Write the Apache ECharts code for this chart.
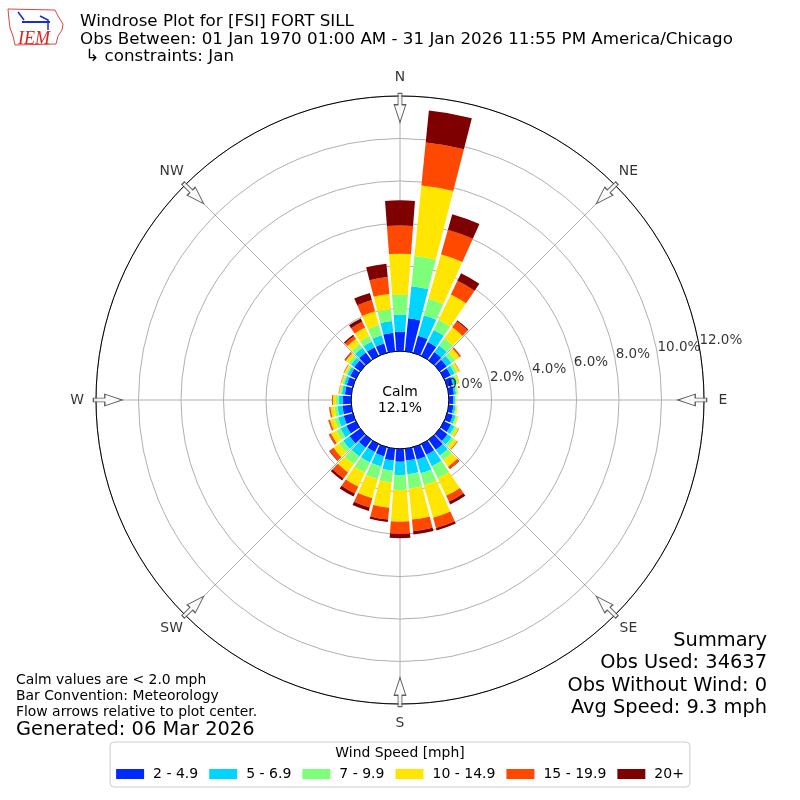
<!DOCTYPE html>
<html><head><meta charset="utf-8">
<script src="https://cdn.jsdelivr.net/npm/echarts@6/dist/echarts.min.js"></script>
<style>html,body{margin:0;padding:0;background:#fff}#c{width:800px;height:800px}</style>
</head><body><div id="c"></div>
<script>
const directions = ['0','10','20','30','40','50','60','70','80','90','100','110','120','130','140','150','160','170',
  '180','190','200','210','220','230','240','250','260','270','280','290','300','310','320','330','340','350'];
const speedBins = ['2 - 4.9','5 - 6.9','7 - 9.9','10 - 14.9','15 - 19.9','20+'];
const binColors = ['#0029ff','#00d5ff','#7dff7a','#ffe600','#ff4800','#7f0000'];

const spd2to5 = [0.90,1.56,0.84,0.72,0.47,0.40,0.35,0.30,0.25,0.20,0.22,0.28,0.36,0.45,0.58,0.55,0.61,0.56,
  0.60,0.56,0.45,0.41,0.46,0.62,0.50,0.45,0.42,0.38,0.30,0.30,0.30,0.35,0.45,0.45,0.45,0.88];
const spd5to7 = [0.80,1.51,1.00,0.63,0.38,0.28,0.20,0.14,0.10,0.08,0.10,0.13,0.18,0.24,0.33,0.60,0.67,0.64,
  0.62,0.48,0.50,0.55,0.51,0.37,0.30,0.27,0.23,0.20,0.14,0.13,0.14,0.19,0.27,0.30,0.41,0.55];
const spd7to10 = [0.95,1.44,0.80,0.53,0.42,0.22,0.13,0.09,0.05,0.04,0.05,0.07,0.11,0.15,0.28,0.64,0.58,0.68,
  0.71,0.56,0.62,0.54,0.45,0.24,0.22,0.18,0.15,0.13,0.08,0.08,0.09,0.14,0.22,0.28,0.50,0.56];
const spd10to15 = [1.93,3.33,2.18,1.33,0.64,0.25,0.12,0.07,0.05,0.03,0.05,0.07,0.11,0.17,0.37,0.91,1.59,1.47,
  1.49,1.19,0.93,0.72,0.47,0.32,0.28,0.22,0.18,0.14,0.06,0.07,0.09,0.16,0.30,0.45,0.67,0.72];
const spd15to20 = [1.32,2.03,1.20,0.71,0.35,0.07,0.02,0.01,0.00,0.00,0.00,0.00,0.02,0.04,0.12,0.30,0.50,0.55,
  0.58,0.56,0.45,0.36,0.35,0.22,0.10,0.07,0.06,0.04,0.02,0.02,0.03,0.06,0.16,0.30,0.55,0.80];
const spd20plus = [1.19,1.51,0.76,0.40,0.05,0.01,0.00,0.00,0.00,0.00,0.00,0.00,0.00,0.00,0.02,0.15,0.12,0.16,
  0.20,0.11,0.17,0.15,0.12,0.03,0.02,0.01,0.01,0.01,0.00,0.00,0.00,0.02,0.07,0.17,0.35,0.63];
const speedData = [spd2to5, spd5to7, spd7to10, spd10to15, spd15to20, spd20plus];

const radialTicks = [0,2,4,6,8,10,12];
const compassAngles = [0,45,90,135,180,225,270,315];
const compassNames = ['N','NE','E','SE','S','SW','W','NW'];
const calmPct = '12.1%';

const FONT = 'DejaVu Sans';
const chart = echarts.init(document.getElementById('c'), null, {renderer:'canvas'});

const barSeries = speedData.map((d,i)=>({
  type:'bar', name:speedBins[i], coordinateSystem:'polar', polarIndex:0, stack:'wind',
  data:d, barCategoryGap:'14%', itemStyle:{color:binColors[i]}, z:3, silent:true
}));

const rad = Math.PI/180;
const option = {
  backgroundColor:'#fff',
  animation:false,
  textStyle:{fontFamily:FONT},
  polar:[
    {center:['50%','50%'], radius:[49,304]},
    {center:['50%','50%'], radius:[49,304]}
  ],
  angleAxis:[
    {polarIndex:0, type:'category', data:directions, startAngle:95, clockwise:true, boundaryGap:true,
     axisLine:{show:false}, axisTick:{show:false}, axisLabel:{show:false}, splitLine:{show:false}},
    {polarIndex:1, type:'value', min:0, max:360, interval:45, startAngle:90, clockwise:true,
     axisLine:{show:true, lineStyle:{color:'#000', width:1}}, axisTick:{show:false}, axisLabel:{show:false},
     splitLine:{show:true, lineStyle:{color:'#b0b0b0', width:1}}}
  ],
  radiusAxis:[
    {polarIndex:0, type:'value', min:0, max:12, interval:2, show:false},
    {polarIndex:1, type:'value', min:0, max:12, interval:2,
     axisLine:{show:false}, axisTick:{show:false}, axisLabel:{show:false},
     splitLine:{show:true, lineStyle:{color:['#000','#b0b0b0','#b0b0b0','#b0b0b0','#b0b0b0','#b0b0b0','#b0b0b0'], width:1}}}
  ],
  legend:{
    data:speedBins, top:742, left:'center', orient:'horizontal', icon:'rect',
    itemWidth:28, itemHeight:10, itemGap:11,
    textStyle:{fontSize:14, color:'#000', fontFamily:FONT, padding:[0,0,0,4]},
    borderColor:'#cccccc', borderWidth:1, borderRadius:4, padding:[25,6,6,6], selectedMode:false
  },
  series:[
    ...barSeries,
    {type:'scatter', coordinateSystem:'polar', polarIndex:1, silent:true, z:5,
     data:compassAngles.map(a=>[11.44,a]),
     symbol:'path://M6,0L12,0L12,11L18,11L9,28L0,11L6,11Z', symbolSize:[18,29], symbolKeepAspect:true,
     symbolRotate:(v)=>-v[1],
     itemStyle:{color:'#ffffff', borderColor:'#333', borderWidth:1.1}},
    {type:'scatter', coordinateSystem:'polar', polarIndex:1, silent:true, z:6,
     data:radialTicks.map(v=>[v,80]), symbolSize:0,
     label:{show:true, position:'right', distance:0, offset:[0,-7], color:'#000', fontSize:13.5, fontFamily:FONT,
       formatter:(p)=>p.value[0].toFixed(1)+'%'}},
    {type:'scatter', coordinateSystem:'polar', polarIndex:1, silent:true, z:6,
     data:compassAngles.map((a,i)=>({name:compassNames[i], value:[12,a],
        label:{offset:[19*Math.sin(a*rad), -19*Math.cos(a*rad)]}})),
     symbolSize:0,
     label:{show:true, position:'inside', formatter:'{b}', color:'#000', fontSize:13.9, fontFamily:FONT}}
  ],
  graphic:[
    {type:'polygon', shape:{points:[[8,9],[55,10],[58,16],[63,24],[62,30],[58,36],[56,44],[15,45],[13,36],[10,28],[9,20]]},
     style:{fill:'none', stroke:'#d44', lineWidth:1}},
    {type:'polyline', shape:{points:[[22,22],[50,22]]}, style:{stroke:'#1a2fd0', lineWidth:2}},
    {type:'polyline', shape:{points:[[18,12],[24,20]]}, style:{stroke:'#1a2fd0', lineWidth:1.5}},
    {type:'polyline', shape:{points:[[40,16],[48,20],[48,30]]}, style:{stroke:'#1a2fd0', lineWidth:1.5}},
    {type:'text', x:34, y:39, style:{text:'IEM', fill:'#d22', font:'italic 18px "Liberation Serif"', textAlign:'center', textVerticalAlign:'middle'}},
    {type:'text', x:80, y:13, style:{text:'Windrose Plot for [FSI] FORT SILL\nObs Between: 01 Jan 1970 01:00 AM - 31 Jan 2026 11:55 PM America/Chicago\n ↳ constraints: Jan',
      fill:'#000', font:'16.7px "DejaVu Sans"', lineHeight:17.5}},
    {type:'text', x:16, y:672, style:{text:'Calm values are < 2.0 mph\nBar Convention: Meteorology\nFlow arrows relative to plot center.',
      fill:'#000', font:'13.9px "DejaVu Sans"', lineHeight:16}},
    {type:'text', x:16, y:730, style:{text:'Generated: 06 Mar 2026', fill:'#000', font:'19.4px "DejaVu Sans"', textVerticalAlign:'middle'}},
    {type:'text', x:767, y:630, style:{text:'Summary\nObs Used: 34637\nObs Without Wind: 0\nAvg Speed: 9.3 mph',
      fill:'#000', font:'19.4px "DejaVu Sans"', lineHeight:22.2, textAlign:'right'}},
    {type:'text', x:400, y:400, z:10, style:{text:'Calm\n'+calmPct, fill:'#000', font:'13.9px "DejaVu Sans"', lineHeight:16,
      textAlign:'center', textVerticalAlign:'middle'}},
    {type:'text', x:400, y:753, z:10, style:{text:'Wind Speed [mph]', fill:'#000', font:'13.9px "DejaVu Sans"',
      textAlign:'center', textVerticalAlign:'middle'}}
  ]
};
chart.setOption(option);
</script></body></html>
